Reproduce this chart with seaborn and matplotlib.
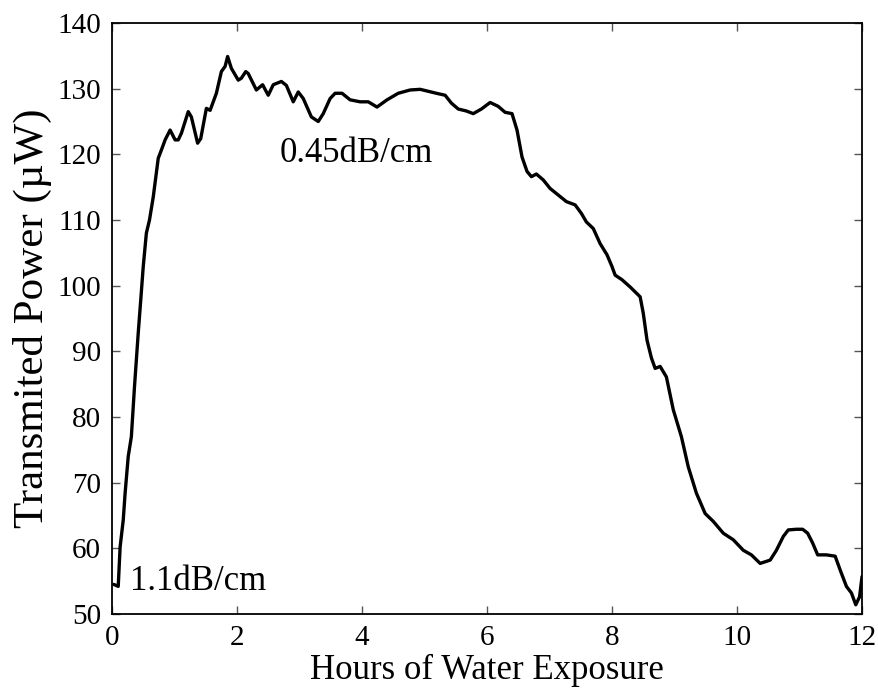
import numpy as np
import pandas as pd
import matplotlib
matplotlib.use("Agg")
import matplotlib.pyplot as plt
import seaborn as sns

# Transmitted power
hours = [0.03, 0.10, 0.13, 0.18, 0.21, 0.26, 0.31, 0.36, 0.42, 0.46, 0.50, 0.55, 0.60,
         0.66, 0.74, 0.80, 0.85, 0.93, 1.01, 1.06, 1.11, 1.22, 1.27, 1.37, 1.42, 1.51,
         1.57, 1.67, 1.75, 1.81, 1.85, 1.91, 2.02, 2.07, 2.14, 2.18, 2.31, 2.41, 2.50,
         2.58, 2.71, 2.79, 2.90, 2.98, 3.06, 3.19, 3.30, 3.38, 3.49, 3.57, 3.68, 3.81,
         3.97, 4.10, 4.24, 4.40, 4.58, 4.77, 4.93, 5.06, 5.19, 5.33, 5.43, 5.54, 5.67,
         5.78, 5.91, 6.05, 6.18, 6.29, 6.40, 6.48, 6.56, 6.64, 6.71, 6.79, 6.90, 7.01,
         7.14, 7.27, 7.41, 7.51, 7.59, 7.70, 7.81, 7.92, 8.00, 8.05, 8.16, 8.29, 8.45,
         8.50, 8.56, 8.63, 8.69, 8.77, 8.87, 8.98, 9.11, 9.22, 9.35, 9.49, 9.62, 9.78,
         9.94, 10.10, 10.23, 10.37, 10.53, 10.63, 10.74, 10.82, 10.95, 11.05, 11.13,
         11.21, 11.29, 11.43, 11.57, 11.65, 11.75, 11.83, 11.90, 11.96, 12.00]
power = [54.5, 54.2, 60.2, 64.3, 68.4, 74.0, 77.0, 84.6, 92.8, 97.8, 102.9, 108.0, 110.0,
         113.5, 119.4, 120.9, 122.2, 123.7, 122.2, 122.2, 123.2, 126.5, 125.7, 121.7,
         122.4, 127.0, 126.7, 129.3, 132.6, 133.4, 134.9, 133.1, 131.3, 131.6, 132.6,
         132.3, 129.8, 130.6, 129.0, 130.6, 131.1, 130.5, 128.0, 129.5, 128.5, 125.7,
         125.0, 126.2, 128.5, 129.3, 129.3, 128.3, 128.0, 128.0, 127.2, 128.3, 129.3,
         129.8, 129.9, 129.6, 129.3, 129.0, 127.8, 126.9, 126.6, 126.2, 126.9, 127.9,
         127.3, 126.4, 126.2, 123.7, 119.6, 117.4, 116.6, 117.0, 116.1, 114.8, 113.8,
         112.8, 112.3, 111.0, 109.7, 108.7, 106.4, 104.7, 102.9, 101.6, 100.9, 99.8,
         98.3, 95.8, 91.7, 89.0, 87.4, 87.7, 86.1, 81.1, 77.0, 72.4, 68.4, 65.3, 64.1,
         62.3, 61.3, 59.7, 59.0, 57.7, 58.2, 59.7, 61.8, 62.8, 62.9, 62.9, 62.3, 60.8,
         59.0, 59.0, 58.8, 56.7, 54.2, 53.2, 51.4, 52.6, 55.7]

x_ticks = [0, 2, 4, 6, 8, 10, 12]
y_ticks = [50, 60, 70, 80, 90, 100, 110, 120, 130, 140]

df = pd.DataFrame({"hours": hours, "power": power})

sns.set_theme(style="ticks")
plt.rcParams["font.family"] = ["Liberation Serif", "DejaVu Serif"]
plt.rcParams["text.color"] = "black"
plt.rcParams["axes.labelcolor"] = "black"
plt.rcParams["xtick.labelcolor"] = "black"
plt.rcParams["ytick.labelcolor"] = "black"

fig = plt.figure(figsize=(8.79, 6.89), dpi=100)
ax = fig.add_axes([0.1274, 0.1089, 0.8533, 0.8577])

sns.lineplot(data=df, x="hours", y="power", color="black", linewidth=2.4, ax=ax)

ax.set_xlim(0, 12)
ax.set_ylim(50, 140)
ax.set_xticks(x_ticks)
ax.set_yticks(y_ticks)
ax.tick_params(direction="in", length=6, width=1, color="#555555",
               top=True, right=True, labelsize=21, pad=8)
for s in ax.spines.values():
    s.set_linewidth(1.3)
    s.set_color("black")

# the original label is spelled this way
ax.set_xlabel("Hours of Water Exposure", fontsize=25, labelpad=2)
ax.set_ylabel("Transmited Power (\u00b5W)", fontsize=31, labelpad=4)

ax.text(2.69, 120.2, "0.45dB/cm", fontsize=25, va="center", ha="left")
ax.text(0.29, 54.9, "1.1dB/cm", fontsize=25, va="center", ha="left")

fig.savefig("out.png", dpi=100)
